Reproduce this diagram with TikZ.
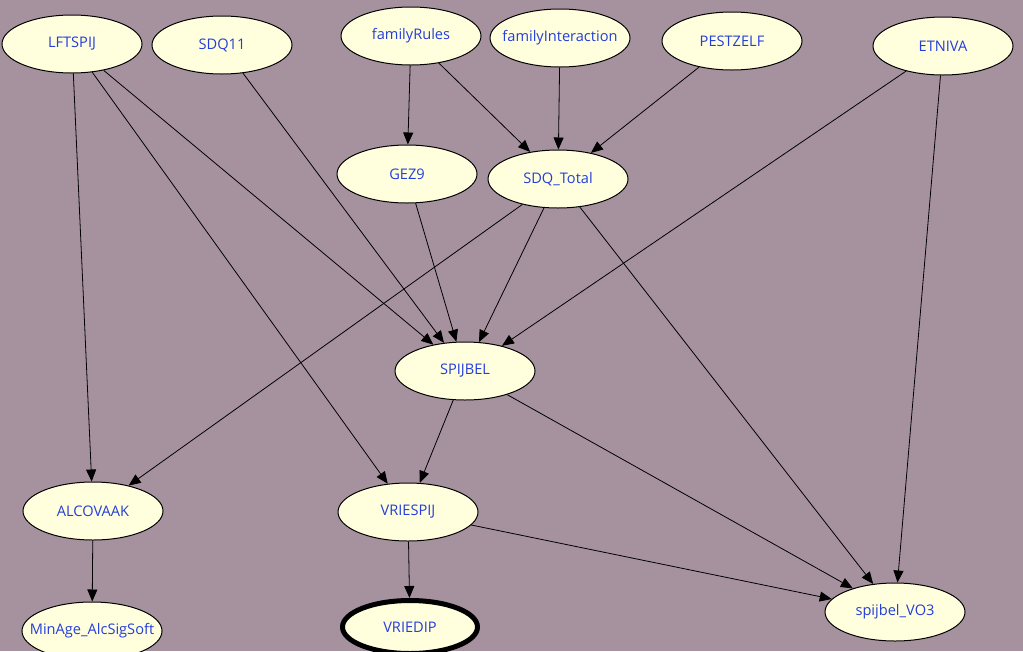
\documentclass[tikz,border=0pt]{standalone}
\usepackage{fontspec}
\setmainfont{Open Sans}
\usetikzlibrary{shapes.geometric,arrows.meta}
\definecolor{bgc}{RGB}{166,146,158}
\definecolor{nodefill}{RGB}{255,255,221}
\definecolor{txtc}{RGB}{36,62,218}
\tikzset{
  var/.style={ellipse, draw=black, line width=1pt, fill=nodefill, text=txtc,
    minimum width=140pt, minimum height=58pt, inner xsep=-20pt, inner ysep=0pt,
    font=\fontsize{14.6pt}{16pt}\selectfont},
  target/.style={var, line width=5pt, minimum width=135pt, minimum height=53pt},
  link/.style={draw=black, line width=0.8pt, -{Triangle[length=12pt,width=10pt]}}
}
\begin{document}
\begin{tikzpicture}[x=1pt,y=-1pt]
\fill[bgc] (0,0) rectangle (1023,651);
\useasboundingbox (0,0) rectangle (1023,651);
\node[var] (LFTSPIJ) at (72,44) {LFTSPIJ};
\node[var] (SDQ11) at (222,45) {SDQ11};
\node[var] (familyRules) at (411,36) {familyRules};
\node[var] (familyInteraction) at (560,38) {familyInteraction};
\node[var] (PESTZELF) at (732,41) {PESTZELF};
\node[var] (ETNIVA) at (943,46) {ETNIVA};
\node[var] (GEZ9) at (407,174) {GEZ9};
\node[var] (SDQTotal) at (558,179) {SDQ\_Total};
\node[var] (SPIJBEL) at (465,371) {SPIJBEL};
\node[var] (ALCOVAAK) at (93,511) {ALCOVAAK};
\node[var] (VRIESPIJ) at (408,512) {VRIESPIJ};
\node[var] (spijbelVO3) at (895,612) {spijbel\_VO3};
\node[var] (MinAge) at (92,631) {MinAge\_AlcSigSoft};
\node[target] (VRIEDIP) at (410,627) {VRIEDIP};

\draw[link] (LFTSPIJ) -- (ALCOVAAK);
\draw[link] (LFTSPIJ) -- (SPIJBEL);
\draw[link] (LFTSPIJ) -- (VRIESPIJ);
\draw[link] (SDQ11) -- (SPIJBEL);
\draw[link] (familyRules) -- (GEZ9);
\draw[link] (familyRules) -- (SDQTotal);
\draw[link] (familyInteraction) -- (SDQTotal);
\draw[link] (PESTZELF) -- (SDQTotal);
\draw[link] (ETNIVA) -- (SPIJBEL);
\draw[link] (ETNIVA) -- (spijbelVO3);
\draw[link] (GEZ9) -- (SPIJBEL);
\draw[link] (SDQTotal) -- (SPIJBEL);
\draw[link] (SDQTotal) -- (ALCOVAAK);
\draw[link] (SDQTotal) -- (spijbelVO3);
\draw[link] (SPIJBEL) -- (VRIESPIJ);
\draw[link] (SPIJBEL) -- (spijbelVO3);
\draw[link] (ALCOVAAK) -- (MinAge);
\draw[link] (VRIESPIJ) -- (VRIEDIP);
\draw[link] (VRIESPIJ) -- (spijbelVO3);
\end{tikzpicture}
\end{document}
